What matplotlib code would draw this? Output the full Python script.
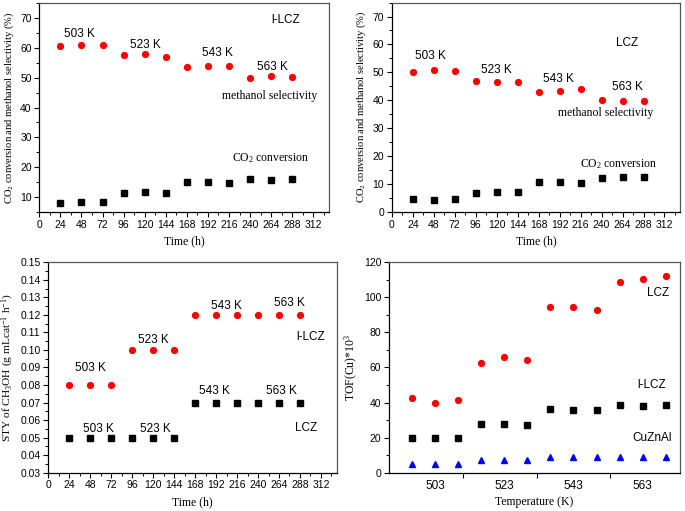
import matplotlib
matplotlib.use("Agg")
import matplotlib.pyplot as plt
from matplotlib.ticker import MultipleLocator, FixedLocator, NullFormatter

plt.rcParams['font.family'] = ['Liberation Sans', 'DejaVu Sans']
plt.rcParams['mathtext.fontset'] = 'custom'
plt.rcParams['mathtext.rm'] = 'Liberation Serif'
plt.rcParams['mathtext.it'] = 'Liberation Serif:italic'

time_h = [24, 48, 72, 96, 120, 144, 168, 192, 216, 240, 264, 288]

# Panel 1: l-LCZ
llcz_sel = [60.6, 61.1, 60.9, 57.6, 57.9, 57.1, 53.6, 54.0, 53.9, 49.9, 50.6, 50.4]
llcz_conv = [8.1, 8.3, 8.3, 11.4, 11.7, 11.3, 15.1, 15.0, 14.8, 16.1, 15.9, 16.0]

# Panel 2: LCZ
lcz_sel = [50.2, 51.0, 50.5, 46.8, 46.5, 46.7, 43.1, 43.5, 43.9, 40.2, 39.8, 39.8]
lcz_conv = [4.6, 4.3, 4.5, 6.9, 7.2, 7.1, 10.6, 10.6, 10.3, 12.1, 12.5, 12.6]

# Panel 3: STY
sty_llcz = [0.08, 0.08, 0.08, 0.10, 0.10, 0.10, 0.12, 0.12, 0.12, 0.12, 0.12, 0.12]
sty_lcz = [0.05, 0.05, 0.05, 0.05, 0.05, 0.05, 0.07, 0.07, 0.07, 0.07, 0.07, 0.07]

# Panel 4: TOF
temp_labels = ['503', '523', '543', '563']
tof_lcz = [42.4, 39.6, 41.5, 62.8, 66.2, 64.5, 94.3, 94.3, 92.8, 108.6, 110.3, 112.2]
tof_llcz = [19.6, 20.0, 20.0, 27.6, 28.0, 27.2, 36.3, 35.9, 35.6, 38.6, 38.0, 38.4]
tof_cuznal = [5.0, 5.0, 5.0, 7.4, 7.4, 7.4, 8.7, 8.7, 8.7, 9.1, 9.1, 9.1]

RED = '#ff0000'
serif = ['Liberation Serif', 'DejaVu Serif']
TICK_FS = 7.5
ANN_FS = 8.5

fig = plt.figure(figsize=(6.85, 5.11), dpi=100)


def style(ax):
    for s in ['top', 'right']:
        ax.spines[s].set_color('#555555')
    for s in ['left', 'bottom']:
        ax.spines[s].set_color('black')
    for s in ax.spines.values():
        s.set_linewidth(0.9)
    ax.tick_params(which='both', direction='out', top=False, right=False,
                   labelsize=TICK_FS, pad=2)
    ax.tick_params(which='major', length=3.5, width=0.8)
    ax.tick_params(which='minor', length=2, width=0.7)


def time_axis(ax):
    ax.set_xlim(0, 330)
    ax.xaxis.set_major_locator(MultipleLocator(24))
    ax.xaxis.set_minor_locator(MultipleLocator(12))
    ax.set_xlabel('Time (h)', family=serif, fontsize=8.5, labelpad=4)


# ---------- Panel 1 ----------
ax1 = fig.add_axes([0.0574, 0.585, 0.423, 0.409])
style(ax1)
ax1.plot(time_h, llcz_sel, 'o', color=RED, ms=4.2, mec=RED)
ax1.plot(time_h, llcz_conv, 's', color='black', ms=3.8)
time_axis(ax1)
ax1.set_ylim(5, 75)
ax1.yaxis.set_major_locator(MultipleLocator(10))
ax1.yaxis.set_minor_locator(MultipleLocator(5))
ax1.set_ylabel('CO$_2$ conversion and methanol selectivity (%)', family=serif,
               fontsize=7.6, labelpad=3)
for t, x, y in [('503 K', 45.6, 64.5), ('523 K', 121.3, 61.0),
                ('543 K', 202.5, 58.4), ('563 K', 265.5, 53.7)]:
    ax1.text(x, y, t, ha='center', va='center', fontsize=ANN_FS)
ax1.text(281, 69.3, 'l-LCZ', ha='center', va='center', fontsize=ANN_FS)
ax1.text(262, 43.8, 'methanol selectivity', ha='center', va='center',
         family=serif, fontsize=8.5)
ax1.text(263.6, 23.1, 'CO$_2$ conversion', ha='center', va='center',
         family=serif, fontsize=8.5)

# ---------- Panel 2 ----------
ax2 = fig.add_axes([0.572, 0.585, 0.421, 0.41])
style(ax2)
ax2.plot(time_h, lcz_sel, 'o', color=RED, ms=4.2, mec=RED)
ax2.plot(time_h, lcz_conv, 's', color='black', ms=3.8)
time_axis(ax2)
ax2.set_ylim(0, 75)
ax2.yaxis.set_major_locator(MultipleLocator(10))
ax2.yaxis.set_minor_locator(MultipleLocator(5))
ax2.set_ylabel('CO$_2$ conversion and methanol selectivity (%)', family=serif,
               fontsize=7.6, labelpad=3)
for t, x, y in [('503 K', 44.5, 55.7), ('523 K', 119.2, 51.0),
                ('543 K', 190.2, 47.7), ('563 K', 269.4, 44.6)]:
    ax2.text(x, y, t, ha='center', va='center', fontsize=ANN_FS)
ax2.text(269, 60.6, 'LCZ', ha='center', va='center', fontsize=ANN_FS)
ax2.text(244.8, 35.3, 'methanol selectivity', ha='center', va='center',
         family=serif, fontsize=8.5)
ax2.text(259.7, 17.2, 'CO$_2$ conversion', ha='center', va='center',
         family=serif, fontsize=8.5)

# ---------- Panel 3 ----------
ax3 = fig.add_axes([0.0705, 0.075, 0.421, 0.4117])
style(ax3)
ax3.plot(time_h, sty_llcz, 'o', color=RED, ms=4.2, mec=RED)
ax3.plot(time_h, sty_lcz, 's', color='black', ms=3.8)
time_axis(ax3)
ax3.set_ylim(0.03, 0.15)
ax3.yaxis.set_major_locator(MultipleLocator(0.01))
ax3.yaxis.set_minor_locator(MultipleLocator(0.005))
ax3.yaxis.set_major_formatter(matplotlib.ticker.FormatStrFormatter('%.2f'))
ax3.set_ylabel('STY of CH$_3$OH (g mLcat$^{-1}$ h$^{-1}$)', family=serif,
               fontsize=8.2, labelpad=3)
for t, x, y in [('503 K', 48.3, 0.0895), ('523 K', 119.8, 0.1055),
                ('543 K', 203.5, 0.125), ('563 K', 275.8, 0.127),
                ('503 K', 57.8, 0.0549), ('523 K', 122, 0.0551),
                ('543 K', 190.6, 0.0764), ('563 K', 266.7, 0.0764)]:
    ax3.text(x, y, t, ha='center', va='center', fontsize=ANN_FS)
ax3.text(300.6, 0.1076, 'l-LCZ', ha='center', va='center', fontsize=ANN_FS)
ax3.text(294.8, 0.0553, 'LCZ', ha='center', va='center', fontsize=ANN_FS)

# ---------- Panel 4 ----------
ax4 = fig.add_axes([0.568, 0.075, 0.424, 0.4117])
style(ax4)
xpos = list(range(1, len(tof_lcz) + 1))
ax4.plot(xpos, tof_lcz, 'o', color=RED, ms=4.2, mec=RED)
ax4.plot(xpos, tof_llcz, 's', color='black', ms=3.8)
ax4.plot(xpos, tof_cuznal, '^', color='#0000ff', ms=4.5)
ax4.set_xlim(0, 12.6)
ax4.set_ylim(0, 120)
ax4.yaxis.set_major_locator(MultipleLocator(20))
ax4.yaxis.set_minor_locator(MultipleLocator(10))
# group separators as major ticks, group labels as unticked minor labels
ax4.xaxis.set_major_locator(FixedLocator([3.2, 6.4, 9.6]))
ax4.xaxis.set_major_formatter(NullFormatter())
ax4.xaxis.set_minor_locator(FixedLocator([2, 5, 8, 11]))
ax4.xaxis.set_minor_formatter(matplotlib.ticker.FixedFormatter(temp_labels))
ax4.tick_params(axis='x', which='minor', length=0, labelsize=8.5, pad=5)
ax4.set_xlabel('Temperature (K)', family=serif, fontsize=8.5, labelpad=3)
ax4.set_ylabel('TOF(Cu)*10$^3$', family=serif, fontsize=8.5, labelpad=3)
ax4.text(11.66, 102.7, 'LCZ', ha='center', va='center', fontsize=ANN_FS)
ax4.text(11.4, 50, 'l-LCZ', ha='center', va='center', fontsize=ANN_FS)
ax4.text(11.4, 19.6, 'CuZnAl', ha='center', va='center', fontsize=ANN_FS)

fig.savefig('out.png', dpi=100)
